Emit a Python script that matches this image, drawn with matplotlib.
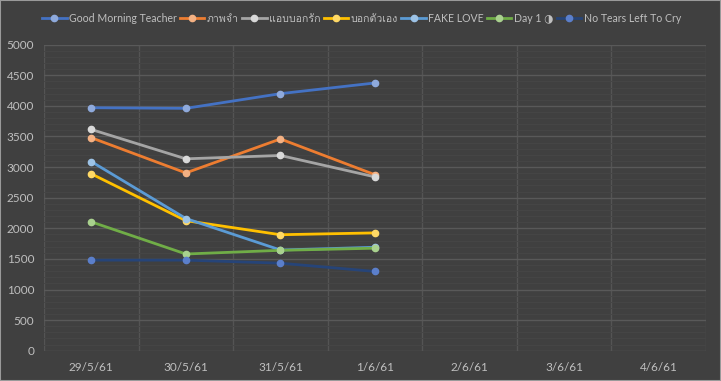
import matplotlib
matplotlib.use("Agg")
import matplotlib.pyplot as plt
from matplotlib import font_manager
from matplotlib.ticker import MultipleLocator
from matplotlib.lines import Line2D

categories = ["29/5/61", "30/5/61", "31/5/61", "1/6/61", "2/6/61", "3/6/61", "4/6/61"]
series_names = ["Good Morning Teacher", "ภาพจำ", "แอบบอกรัก", "บอกตัวเอง", "FAKE LOVE", "Day 1 ◑", "No Tears Left To Cry"]
good_morning_teacher = [3970, 3960, 4200, 4375]
phap_cham = [3480, 2905, 3460, 2875]
aep_bok_rak = [3615, 3135, 3190, 2840]
bok_tua_eng = [2890, 2125, 1895, 1925]
fake_love = [3090, 2160, 1645, 1690]
day_1 = [2105, 1580, 1640, 1675]
no_tears = [1480, 1480, 1430, 1295]
values = [good_morning_teacher, phap_cham, aep_bok_rak, bok_tua_eng, fake_love, day_1, no_tears]

line_colors = ["#4472C4", "#ED7D31", "#A5A5A5", "#FFC000", "#5B9BD5", "#70AD47", "#264478"]
marker_colors = ["#8FAADC", "#F4B183", "#D9D9D9", "#FFD966", "#9DC3E6", "#A9D18E", "#5B7FCB"]

# find a font with Thai glyphs
thai_font = None
for f in font_manager.fontManager.ttflist:
    try:
        ft = matplotlib.ft2font.FT2Font(f.fname)
        cm = ft.get_charmap()
        if 0x0E20 in cm and 0x0E41 in cm:
            thai_font = f.name
            if "Sans" in f.name or "Loma" in f.name:
                break
    except Exception:
        pass

families = ["Lato", "DejaVu Sans"]
if thai_font:
    families = ["Lato", thai_font, "DejaVu Sans"]
plt.rcParams["font.family"] = families

bg = "#404040"
txt = "#BFBFBF"

fig = plt.figure(figsize=(7.21, 3.81), dpi=100, facecolor=bg)
ax = fig.add_axes([44/721, 1-350.7/381, (706-44)/721, (350.7-44.7)/381])
ax.set_facecolor(bg)

x = list(range(len(categories)))
for name, vals, lc, mc in zip(series_names, values, line_colors, marker_colors):
    ax.plot(x[:len(vals)], vals, color=lc, lw=2.0, marker="o", ms=4.5,
            mfc=mc, mec=mc, label=name, zorder=3)

ax.set_xlim(-0.5, len(categories) - 0.5)
ax.set_ylim(0, 5000)
ax.yaxis.set_major_locator(MultipleLocator(500))
ax.yaxis.set_minor_locator(MultipleLocator(100))
ax.set_xticks(x)
ax.set_xticklabels(categories)
ax.set_xticks([i + 0.5 for i in range(-1, len(categories))], minor=True)

ax.grid(which="major", axis="y", color="#595959", lw=1.0, zorder=1)
ax.grid(which="minor", axis="y", color="#464646", lw=0.7, zorder=0)
ax.grid(which="minor", axis="x", color="#545454", lw=1.0, zorder=1)
ax.grid(which="major", axis="x", visible=False)

for s in ax.spines.values():
    s.set_visible(False)
ax.tick_params(axis="both", which="both", length=0, colors=txt, labelsize=8.5)
ax.tick_params(axis="y", pad=7)
ax.tick_params(axis="x", pad=8)

handles = [Line2D([0], [0], color=lc, lw=2.0, marker="o", ms=4.5, mfc=mc, mec=mc)
           for lc, mc in zip(line_colors, marker_colors)]
leg = fig.legend(handles, series_names, loc="center", bbox_to_anchor=(0.5 + 1/721, 1-18/381),
                 ncol=7, frameon=False, fontsize=7.6, labelcolor=txt,
                 handlelength=2.3, handletextpad=0.25, columnspacing=0.3)

# outer border
fig.patches.append(plt.Rectangle((0, 0), 1, 1, transform=fig.transFigure, fill=False,
                                 edgecolor="#9A9A9A", lw=1.5))

fig.savefig("out.png", dpi=100, facecolor=bg)
